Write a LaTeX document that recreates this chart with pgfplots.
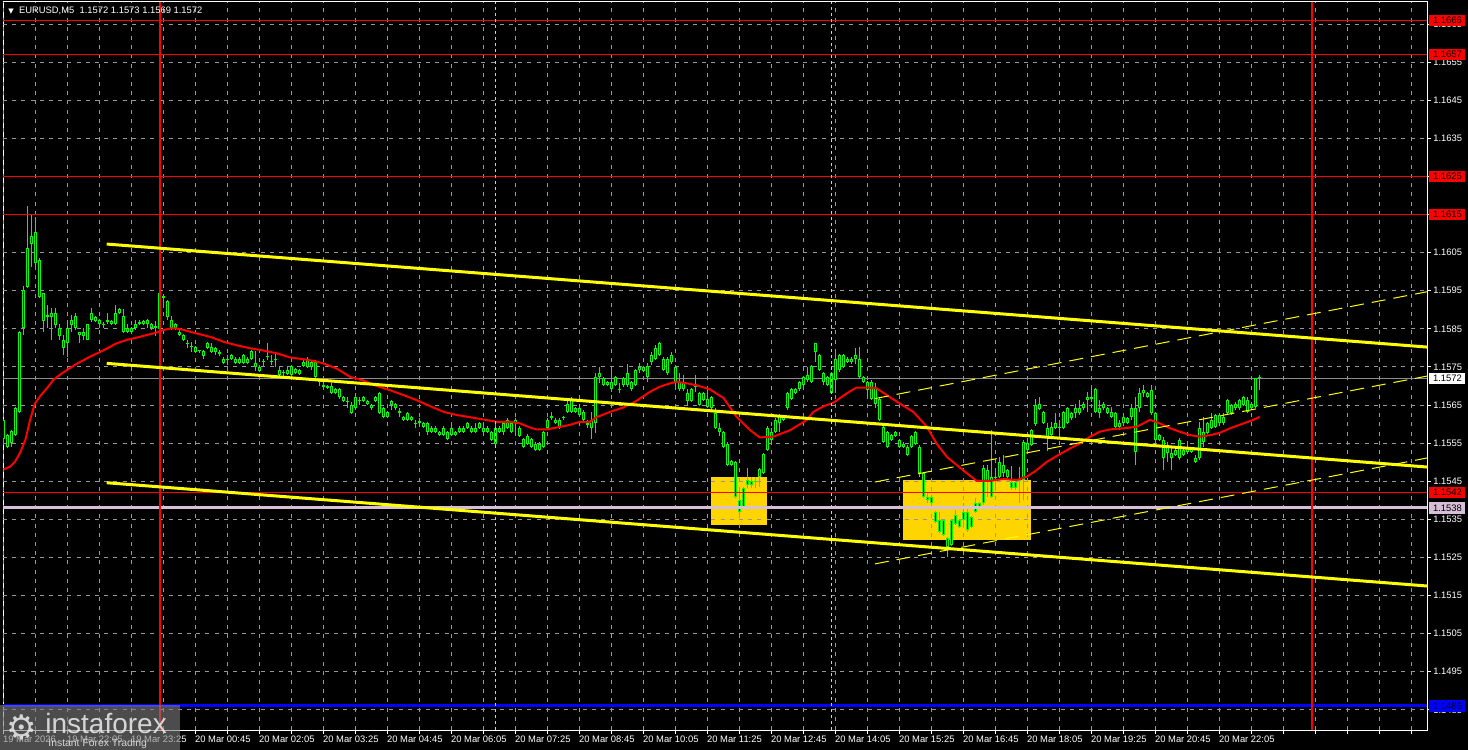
\documentclass[border=0pt]{standalone}
\usepackage{pgfplots}
\pgfplotsset{compat=1.18}
\usepackage{pgfplotstable}
\usepackage{fontspec}
\setmainfont{Liberation Sans}
\newfontfamily\dejavu{DejaVu Sans}
\definecolor{cgreen}{RGB}{0,255,0}
\definecolor{gold}{RGB}{255,213,0}
\definecolor{cyellow}{RGB}{255,255,0}
\definecolor{gridc}{RGB}{150,150,160}
\definecolor{thistlec}{RGB}{216,191,216}
\definecolor{limec}{RGB}{173,255,47}
\definecolor{cblue}{RGB}{0,0,255}
\definecolor{curgray}{RGB}{140,140,140}
\newcommand{\tickfont}{\fontsize{4.7bp}{5.5bp}\selectfont}

\pgfplotstableread{
t o h l c
-195 1.15612 1.15614 1.15555 1.15560
-190 1.15571 1.15574 1.15538 1.15541
-185 1.15551 1.15584 1.15541 1.15582
-180 1.15571 1.15644 1.15568 1.15641
-175 1.15631 1.15844 1.15629 1.15841
-170 1.15851 1.15962 1.15834 1.15952
-165 1.15961 1.16172 1.15956 1.16061
-160 1.16072 1.16149 1.16013 1.16094
-155 1.16103 1.16144 1.16013 1.16022
-150 1.16032 1.16035 1.15930 1.15933
-145 1.15943 1.15945 1.15842 1.15871
-140 1.15882 1.15912 1.15851 1.15886
-135 1.15882 1.15904 1.15822 1.15891
-130 1.15891 1.15904 1.15851 1.15860
-125 1.15851 1.15863 1.15821 1.15831
-120 1.15822 1.15834 1.15781 1.15801
-115 1.15812 1.15873 1.15777 1.15851
-110 1.15860 1.15886 1.15842 1.15873
-105 1.15884 1.15891 1.15847 1.15851
-100 1.15841 1.15842 1.15812 1.15834
-95 1.15831 1.15851 1.15821 1.15841
-90 1.15822 1.15864 1.15820 1.15862
-85 1.15873 1.15904 1.15869 1.15891
-80 1.15882 1.15885 1.15868 1.15871
-75 1.15873 1.15877 1.15851 1.15863
-70 1.15863 1.15869 1.15851 1.15860
-65 1.15869 1.15891 1.15863 1.15873
-60 1.15871 1.15874 1.15860 1.15863
-55 1.15863 1.15912 1.15860 1.15891
-50 1.15891 1.15904 1.15888 1.15901
-45 1.15884 1.15901 1.15838 1.15841
-40 1.15841 1.15863 1.15838 1.15851
-35 1.15851 1.15854 1.15838 1.15841
-30 1.15851 1.15873 1.15847 1.15862
-25 1.15864 1.15873 1.15860 1.15868
-20 1.15871 1.15874 1.15860 1.15863
-15 1.15862 1.15875 1.15851 1.15873
-10 1.15862 1.15865 1.15848 1.15851
-5 1.15853 1.15870 1.15830 1.15857
0 1.15850 1.15945 1.15840 1.15943
5 1.15935 1.15939 1.15905 1.15931
10 1.15922 1.15926 1.15873 1.15882
15 1.15873 1.15884 1.15848 1.15851
20 1.15851 1.15865 1.15848 1.15862
25 1.15843 1.15847 1.15831 1.15834
30 1.15834 1.15837 1.15818 1.15821
35 1.15812 1.15822 1.15799 1.15810
40 1.15804 1.15816 1.15790 1.15802
45 1.15803 1.15806 1.15787 1.15790
50 1.15791 1.15795 1.15787 1.15793
55 1.15792 1.15795 1.15772 1.15779
60 1.15800 1.15815 1.15797 1.15812
65 1.15803 1.15812 1.15787 1.15790
70 1.15790 1.15803 1.15781 1.15800
75 1.15790 1.15795 1.15780 1.15785
80 1.15772 1.15775 1.15758 1.15761
85 1.15767 1.15781 1.15755 1.15770
90 1.15771 1.15784 1.15768 1.15781
95 1.15772 1.15775 1.15758 1.15761
100 1.15761 1.15775 1.15758 1.15772
105 1.15781 1.15784 1.15758 1.15761
110 1.15761 1.15775 1.15758 1.15772
115 1.15772 1.15795 1.15769 1.15792
120 1.15761 1.15792 1.15740 1.15751
125 1.15751 1.15755 1.15738 1.15740
130 1.15762 1.15772 1.15752 1.15765
135 1.15775 1.15814 1.15768 1.15780
140 1.15766 1.15781 1.15755 1.15762
145 1.15768 1.15790 1.15751 1.15772
150 1.15742 1.15752 1.15726 1.15729
155 1.15733 1.15742 1.15724 1.15737
160 1.15731 1.15752 1.15729 1.15742
165 1.15752 1.15755 1.15726 1.15729
170 1.15735 1.15748 1.15732 1.15745
175 1.15742 1.15745 1.15728 1.15731
180 1.15752 1.15772 1.15749 1.15764
185 1.15772 1.15775 1.15748 1.15751
190 1.15751 1.15767 1.15742 1.15764
195 1.15764 1.15767 1.15720 1.15724
200 1.15712 1.15720 1.15700 1.15710
205 1.15702 1.15711 1.15689 1.15698
210 1.15700 1.15703 1.15692 1.15696
215 1.15700 1.15707 1.15678 1.15681
220 1.15681 1.15694 1.15678 1.15691
225 1.15691 1.15694 1.15667 1.15670
230 1.15670 1.15673 1.15658 1.15661
235 1.15660 1.15672 1.15641 1.15657
240 1.15650 1.15659 1.15627 1.15630
245 1.15641 1.15681 1.15637 1.15672
250 1.15664 1.15672 1.15650 1.15661
255 1.15661 1.15673 1.15658 1.15670
260 1.15661 1.15664 1.15649 1.15652
265 1.15650 1.15653 1.15638 1.15641
270 1.15661 1.15675 1.15658 1.15672
275 1.15681 1.15684 1.15627 1.15630
280 1.15641 1.15646 1.15616 1.15619
285 1.15619 1.15635 1.15616 1.15632
290 1.15650 1.15663 1.15637 1.15661
295 1.15652 1.15655 1.15638 1.15641
300 1.15634 1.15641 1.15619 1.15630
305 1.15619 1.15622 1.15608 1.15611
310 1.15611 1.15633 1.15608 1.15630
315 1.15619 1.15622 1.15609 1.15612
320 1.15603 1.15611 1.15589 1.15600
325 1.15603 1.15615 1.15593 1.15607
330 1.15602 1.15605 1.15590 1.15593
335 1.15602 1.15605 1.15571 1.15580
340 1.15580 1.15594 1.15577 1.15591
345 1.15591 1.15594 1.15577 1.15580
350 1.15580 1.15583 1.15568 1.15571
355 1.15571 1.15594 1.15568 1.15591
360 1.15580 1.15583 1.15557 1.15560
365 1.15571 1.15594 1.15568 1.15591
370 1.15580 1.15583 1.15568 1.15571
375 1.15580 1.15594 1.15577 1.15591
380 1.15591 1.15594 1.15577 1.15580
385 1.15591 1.15605 1.15588 1.15602
390 1.15591 1.15594 1.15577 1.15580
395 1.15580 1.15602 1.15577 1.15591
400 1.15591 1.15605 1.15588 1.15602
405 1.15591 1.15594 1.15577 1.15580
410 1.15580 1.15594 1.15577 1.15591
415 1.15580 1.15583 1.15555 1.15558
420 1.15549 1.15602 1.15546 1.15591
425 1.15591 1.15594 1.15577 1.15580
430 1.15580 1.15606 1.15571 1.15602
435 1.15612 1.15615 1.15588 1.15591
440 1.15580 1.15605 1.15577 1.15602
445 1.15602 1.15615 1.15580 1.15612
450 1.15591 1.15594 1.15567 1.15570
455 1.15561 1.15564 1.15538 1.15541
460 1.15549 1.15573 1.15546 1.15570
465 1.15561 1.15564 1.15538 1.15541
470 1.15549 1.15552 1.15529 1.15532
475 1.15532 1.15552 1.15529 1.15549
480 1.15541 1.15583 1.15538 1.15580
485 1.15591 1.15615 1.15584 1.15612
490 1.15617 1.15633 1.15611 1.15620
495 1.15612 1.15615 1.15599 1.15602
500 1.15612 1.15615 1.15588 1.15591
505 1.15615 1.15621 1.15612 1.15619
510 1.15633 1.15667 1.15630 1.15654
515 1.15667 1.15670 1.15630 1.15633
520 1.15633 1.15644 1.15630 1.15641
525 1.15641 1.15644 1.15621 1.15624
530 1.15633 1.15636 1.15608 1.15611
535 1.15602 1.15611 1.15589 1.15598
540 1.15591 1.15633 1.15561 1.15611
545 1.15602 1.15733 1.15576 1.15724
550 1.15724 1.15751 1.15707 1.15733
555 1.15720 1.15723 1.15699 1.15702
560 1.15702 1.15714 1.15699 1.15711
565 1.15711 1.15744 1.15685 1.15691
570 1.15702 1.15727 1.15699 1.15724
575 1.15693 1.15707 1.15681 1.15690
580 1.15702 1.15724 1.15698 1.15720
585 1.15733 1.15759 1.15698 1.15702
590 1.15711 1.15714 1.15688 1.15691
595 1.15702 1.15745 1.15699 1.15742
600 1.15742 1.15761 1.15733 1.15751
605 1.15750 1.15753 1.15737 1.15740
610 1.15752 1.15761 1.15711 1.15724
615 1.15762 1.15790 1.15755 1.15781
620 1.15772 1.15807 1.15768 1.15799
625 1.15812 1.15815 1.15778 1.15781
630 1.15772 1.15775 1.15739 1.15742
635 1.15733 1.15775 1.15730 1.15772
640 1.15762 1.15790 1.15759 1.15781
645 1.15751 1.15754 1.15698 1.15711
650 1.15711 1.15733 1.15688 1.15691
655 1.15691 1.15729 1.15688 1.15711
660 1.15681 1.15691 1.15650 1.15661
665 1.15661 1.15694 1.15658 1.15691
670 1.15697 1.15730 1.15685 1.15700
675 1.15681 1.15684 1.15647 1.15650
680 1.15663 1.15684 1.15660 1.15681
685 1.15665 1.15691 1.15641 1.15645
690 1.15641 1.15675 1.15638 1.15672
695 1.15630 1.15641 1.15586 1.15589
700 1.15591 1.15602 1.15569 1.15580
705 1.15580 1.15583 1.15538 1.15541
710 1.15549 1.15552 1.15490 1.15493
715 1.15493 1.15506 1.15490 1.15503
720 1.15501 1.15504 1.15406 1.15409
725 1.15401 1.15431 1.15361 1.15370
730 1.15383 1.15434 1.15379 1.15431
735 1.15440 1.15484 1.15431 1.15453
740 1.15451 1.15462 1.15431 1.15440
745 1.15447 1.15462 1.15431 1.15450
750 1.15462 1.15484 1.15436 1.15481
755 1.15471 1.15524 1.15468 1.15521
760 1.15532 1.15594 1.15529 1.15591
765 1.15580 1.15591 1.15555 1.15558
770 1.15580 1.15615 1.15577 1.15612
775 1.15602 1.15627 1.15580 1.15624
780 1.15621 1.15624 1.15608 1.15611
785 1.15641 1.15684 1.15638 1.15681
790 1.15691 1.15694 1.15664 1.15667
795 1.15681 1.15694 1.15678 1.15691
800 1.15691 1.15714 1.15688 1.15711
805 1.15702 1.15727 1.15699 1.15724
810 1.15716 1.15751 1.15711 1.15729
815 1.15711 1.15755 1.15708 1.15752
820 1.15790 1.15814 1.15762 1.15812
825 1.15781 1.15784 1.15739 1.15742
830 1.15733 1.15736 1.15702 1.15711
835 1.15702 1.15727 1.15699 1.15724
840 1.15733 1.15736 1.15678 1.15681
845 1.15716 1.15794 1.15681 1.15772
850 1.15781 1.15784 1.15738 1.15742
855 1.15751 1.15784 1.15748 1.15781
860 1.15772 1.15775 1.15761 1.15764
865 1.15762 1.15775 1.15759 1.15772
870 1.15772 1.15799 1.15759 1.15781
875 1.15772 1.15803 1.15720 1.15724
880 1.15724 1.15727 1.15708 1.15711
885 1.15711 1.15714 1.15676 1.15689
890 1.15711 1.15715 1.15664 1.15667
895 1.15654 1.15707 1.15641 1.15694
900 1.15667 1.15670 1.15608 1.15611
905 1.15593 1.15596 1.15551 1.15554
910 1.15541 1.15583 1.15538 1.15580
915 1.15571 1.15574 1.15555 1.15558
920 1.15569 1.15583 1.15566 1.15580
925 1.15558 1.15561 1.15538 1.15541
930 1.15541 1.15552 1.15538 1.15549
935 1.15541 1.15544 1.15516 1.15519
940 1.15541 1.15572 1.15538 1.15569
945 1.15580 1.15583 1.15546 1.15549
950 1.15541 1.15544 1.15462 1.15471
955 1.15471 1.15474 1.15406 1.15409
960 1.15409 1.15423 1.15392 1.15401
965 1.15409 1.15414 1.15383 1.15392
970 1.15370 1.15373 1.15341 1.15344
975 1.15348 1.15370 1.15313 1.15318
980 1.15309 1.15351 1.15306 1.15348
985 1.15300 1.15303 1.15252 1.15278
990 1.15283 1.15351 1.15280 1.15348
995 1.15339 1.15375 1.15336 1.15361
1000 1.15348 1.15351 1.15328 1.15331
1005 1.15348 1.15392 1.15339 1.15370
1010 1.15370 1.15379 1.15318 1.15322
1015 1.15331 1.15360 1.15328 1.15357
1020 1.15370 1.15405 1.15367 1.15392
1025 1.15392 1.15395 1.15380 1.15383
1030 1.15392 1.15493 1.15388 1.15484
1035 1.15479 1.15493 1.15409 1.15449
1040 1.15409 1.15584 1.15406 1.15462
1045 1.15462 1.15475 1.15436 1.15459
1050 1.15462 1.15514 1.15458 1.15501
1055 1.15493 1.15519 1.15462 1.15471
1060 1.15479 1.15482 1.15459 1.15462
1065 1.15449 1.15490 1.15428 1.15431
1070 1.15431 1.15452 1.15428 1.15449
1075 1.15450 1.15488 1.15392 1.15453
1080 1.15453 1.15557 1.15400 1.15554
1085 1.15551 1.15563 1.15528 1.15532
1090 1.15545 1.15587 1.15542 1.15584
1095 1.15600 1.15667 1.15595 1.15650
1100 1.15652 1.15672 1.15637 1.15640
1105 1.15632 1.15635 1.15599 1.15602
1110 1.15590 1.15602 1.15530 1.15565
1115 1.15571 1.15605 1.15568 1.15593
1120 1.15589 1.15628 1.15586 1.15602
1125 1.15592 1.15611 1.15567 1.15589
1130 1.15589 1.15635 1.15586 1.15632
1135 1.15641 1.15644 1.15599 1.15602
1140 1.15615 1.15631 1.15612 1.15628
1145 1.15628 1.15654 1.15615 1.15641
1150 1.15641 1.15663 1.15625 1.15628
1155 1.15641 1.15657 1.15638 1.15654
1160 1.15663 1.15685 1.15632 1.15672
1165 1.15670 1.15702 1.15659 1.15667
1170 1.15692 1.15694 1.15628 1.15632
1175 1.15630 1.15663 1.15615 1.15641
1180 1.15641 1.15657 1.15638 1.15654
1185 1.15641 1.15644 1.15627 1.15630
1190 1.15632 1.15646 1.15615 1.15619
1195 1.15628 1.15631 1.15589 1.15593
1200 1.15593 1.15611 1.15584 1.15602
1205 1.15602 1.15628 1.15597 1.15619
1210 1.15615 1.15618 1.15599 1.15602
1215 1.15619 1.15654 1.15611 1.15641
1220 1.15528 1.15672 1.15493 1.15641
1225 1.15641 1.15694 1.15632 1.15681
1230 1.15681 1.15702 1.15672 1.15689
1235 1.15681 1.15684 1.15669 1.15672
1240 1.15689 1.15702 1.15625 1.15628
1245 1.15628 1.15631 1.15555 1.15558
1250 1.15558 1.15574 1.15555 1.15571
1255 1.15558 1.15567 1.15479 1.15510
1260 1.15523 1.15554 1.15501 1.15541
1265 1.15523 1.15536 1.15479 1.15510
1270 1.15519 1.15535 1.15516 1.15532
1275 1.15510 1.15563 1.15506 1.15558
1280 1.15532 1.15535 1.15516 1.15519
1285 1.15528 1.15544 1.15525 1.15541
1290 1.15536 1.15539 1.15525 1.15528
1295 1.15510 1.15519 1.15498 1.15501
1300 1.15510 1.15606 1.15506 1.15589
1305 1.15554 1.15619 1.15540 1.15580
1310 1.15576 1.15605 1.15573 1.15602
1315 1.15611 1.15628 1.15586 1.15589
1320 1.15593 1.15627 1.15590 1.15624
1325 1.15624 1.15627 1.15599 1.15602
1330 1.15602 1.15628 1.15597 1.15619
1335 1.15628 1.15666 1.15625 1.15663
1340 1.15650 1.15653 1.15625 1.15628
1345 1.15641 1.15657 1.15638 1.15654
1350 1.15641 1.15666 1.15638 1.15663
1355 1.15672 1.15675 1.15647 1.15650
1360 1.15663 1.15672 1.15628 1.15632
1365 1.15641 1.15657 1.15638 1.15654
1370 1.15646 1.15722 1.15643 1.15720
1375 1.15720 1.15730 1.15690 1.15720
}\candles

\pgfplotstableread{
t m
-195 1.15481
-187 1.15488
-181 1.15501
-175 1.15523
-168 1.15558
-162 1.15611
-156 1.15654
-150 1.15672
-141 1.15694
-133 1.15716
-125 1.15729
-116 1.15742
-104 1.15758
-87 1.15777
-70 1.15794
-54 1.15812
-41 1.15821
-25 1.15829
-8 1.15838
5 1.15847
13 1.15851
21 1.15851
30 1.15847
46 1.15838
63 1.15829
80 1.15816
96 1.15807
113 1.15799
130 1.15793
146 1.15786
163 1.15775
180 1.15770
192 1.15766
205 1.15759
221 1.15746
238 1.15724
255 1.15714
271 1.15700
288 1.15689
305 1.15676
321 1.15663
338 1.15647
355 1.15632
371 1.15624
388 1.15618
405 1.15612
421 1.15606
438 1.15606
450 1.15602
463 1.15591
471 1.15586
484 1.15586
496 1.15591
513 1.15598
525 1.15606
538 1.15606
546 1.15618
563 1.15632
580 1.15644
596 1.15661
613 1.15685
625 1.15698
638 1.15707
646 1.15711
659 1.15707
671 1.15702
688 1.15691
705 1.15668
721 1.15619
738 1.15584
750 1.15565
767 1.15567
788 1.15584
809 1.15611
817 1.15632
830 1.15647
842 1.15656
859 1.15681
871 1.15696
884 1.15696
896 1.15694
909 1.15676
925 1.15654
942 1.15632
959 1.15593
971 1.15549
984 1.15514
996 1.15493
1009 1.15471
1021 1.15451
1038 1.15451
1055 1.15456
1071 1.15453
1084 1.15462
1096 1.15479
1109 1.15501
1125 1.15521
1138 1.15536
1150 1.15549
1163 1.15567
1175 1.15580
1188 1.15586
1205 1.15589
1221 1.15593
1238 1.15611
1250 1.15602
1263 1.15589
1275 1.15580
1288 1.15571
1300 1.15567
1313 1.15571
1325 1.15577
1338 1.15589
1355 1.15602
1367 1.15611
1375 1.15619
}\ma

\begin{document}
\begin{tikzpicture}
\fill[black] (0,0) rectangle (734bp,375bp);
\useasboundingbox (0,0) rectangle (734bp,375bp);
\begin{axis}[
  at={(1.5bp,10bp)}, anchor=south west,
  scale only axis, width=712bp, height=364bp,
  xmin=-195.9, xmax=1584.1, ymin=1.14797, ymax=1.16708,
  clip mode=individual,
  axis line style={white, line width=0.5bp},
  tick style={white, line width=0.5bp},
  tick align=outside,
  major tick length=2bp, minor tick length=2bp,
  xtick pos=bottom, ytick pos=right, yticklabel pos=right,
  scaled y ticks=false, scaled x ticks=false,
  xtick={-195,-115,...,1565},
  minor xtick={-155,-75,...,1525},
  xticklabels={19 Mar 2026,19 Mar 22:05,19 Mar 23:25,20 Mar 00:45,20 Mar 02:05,20 Mar 03:25,20 Mar 04:45,20 Mar 06:05,20 Mar 07:25,20 Mar 08:45,20 Mar 10:05,20 Mar 11:25,20 Mar 12:45,20 Mar 14:05,20 Mar 15:25,20 Mar 16:45,20 Mar 18:05,20 Mar 19:25,20 Mar 20:45,20 Mar 22:05,{},{},{}},
  ytick={1.1485,1.1495,1.1505,1.1515,1.1525,1.1535,1.1545,1.1555,1.1565,1.1575,1.1585,1.1595,1.1605,1.1615,1.1625,1.1635,1.1645,1.1655,1.1665},
  yticklabels={1.1485,1.1495,1.1505,1.1515,1.1525,1.1535,1.1545,1.1555,1.1565,1.1575,1.1585,1.1595,1.1605,1.1615,1.1625,1.1635,1.1645,1.1655,1.1665},
  tick label style={text=white, font=\tickfont},
  xticklabel style={anchor=north west, inner sep=0pt, xshift=-0.5bp, yshift=-1bp},
  yticklabel style={anchor=west, inner sep=0pt, xshift=1bp},
]
% yellow boxes
\addplot[fill=gold, draw=none] coordinates {(689,1.15461) (759,1.15461) (759,1.15336) (689,1.15336)} -- cycle;
\addplot[fill=gold, draw=none] coordinates {(929,1.15453) (1089,1.15453) (1089,1.15297) (929,1.15297)} -- cycle;
% grid
\pgfplotsinvokeforeach{-195,-155,...,1565}{
  \draw[gridc, line width=0.5bp, dash pattern=on 2bp off 2.6bp] (axis cs:#1,1.14797) -- (axis cs:#1,1.16708);
}
\pgfplotsinvokeforeach{1.1485,1.1495,1.1505,1.1515,1.1525,1.1535,1.1545,1.1555,1.1565,1.1575,1.1585,1.1595,1.1605,1.1615,1.1625,1.1635,1.1645,1.1655,1.1665}{
  \draw[gridc, line width=0.5bp, dash pattern=on 2bp off 2.6bp] (axis cs:-195.9,#1) -- (axis cs:1584.1,#1);
}
% current price line
\addplot[curgray, line width=0.5bp] coordinates {(-195.9,1.1572) (1584.1,1.1572)};
% candles: wicks
\addplot[draw=none, error bars/.cd, y dir=plus, y explicit, error mark=none,
  error bar style={draw=cgreen, line width=0.5bp}]
  table[x=t, y=l, y error expr=\thisrow{h}-\thisrow{l}] {\candles};
% bodies outer
\addplot[draw=none, error bars/.cd, y dir=plus, y explicit, error mark=none,
  error bar style={draw=cgreen, line width=1.6bp}]
  table[x=t, y expr={min(\thisrow{o},\thisrow{c})}, y error expr={max(abs(\thisrow{c}-\thisrow{o}),0.00003)}] {\candles};
% bodies inner
\addplot[draw=none, error bars/.cd, y dir=plus, y explicit, error mark=none,
  error bar style={draw=black, line width=0.55bp}]
  table[x=t, y expr={min(\thisrow{o},\thisrow{c})+0.000026}, y error expr={max(abs(\thisrow{c}-\thisrow{o})-0.000052,0)}] {\candles};
% moving average
\addplot[red, line width=1bp] table[x=t, y=m] {\ma};
% horizontal levels
\addplot[red, line width=0.7bp] coordinates {(-195.9,1.1666) (1584.1,1.1666)};
\addplot[red, line width=0.7bp] coordinates {(-195.9,1.1657) (1584.1,1.1657)};
\addplot[red, line width=0.5bp] coordinates {(-195.9,1.1625) (1584.1,1.1625)};
\addplot[red, line width=0.7bp] coordinates {(-195.9,1.1615) (1584.1,1.1615)};
\addplot[red, line width=0.7bp] coordinates {(-195.9,1.1542) (1584.1,1.1542)};
\addplot[thistlec, line width=1.5bp] coordinates {(-195.9,1.1538) (1584.1,1.1538)};
\addplot[cblue, line width=1.5bp] coordinates {(-195.9,1.1486) (1584.1,1.1486)};
% vertical lines
\addplot[red, line width=1.1bp] coordinates {(0,1.14797) (0,1.16708)};
\addplot[red, line width=1.1bp] coordinates {(1440,1.14797) (1440,1.16708)};
\addplot[limec, line width=0.5bp, dash pattern=on 1.5bp off 1.5bp] coordinates {(420,1.14797) (420,1.16708)};
\addplot[limec, line width=0.5bp, dash pattern=on 1.5bp off 1.5bp] coordinates {(840,1.14797) (840,1.16708)};
% regression channel (thick)
\addplot[cyellow, line width=1.5bp] coordinates {(-66.25,1.160726) (1584.1,1.158022)};
\addplot[cyellow, line width=1.5bp] coordinates {(-66.25,1.157594) (1584.1,1.154873)};
\addplot[cyellow, line width=1.5bp] coordinates {(-66.25,1.154461) (1584.1,1.151750)};
% thin dashed channel
\addplot[cyellow, line width=0.5bp, dash pattern=on 7bp off 4bp] coordinates {(894,1.15667) (1584.1,1.159474)};
\addplot[cyellow, line width=0.5bp, dash pattern=on 7bp off 4bp] coordinates {(894,1.15448) (1584.1,1.15726)};
\addplot[cyellow, line width=0.5bp, dash pattern=on 7bp off 4bp] coordinates {(894,1.15233) (1584.1,1.15511)};
% tag anchors
\coordinate (T1666) at (axis cs:1584.1,1.1666);
\coordinate (T1657) at (axis cs:1584.1,1.1657);
\coordinate (T1625) at (axis cs:1584.1,1.1625);
\coordinate (T1615) at (axis cs:1584.1,1.1615);
\coordinate (T1572) at (axis cs:1584.1,1.1572);
\coordinate (T1542) at (axis cs:1584.1,1.1542);
\coordinate (T1538) at (axis cs:1584.1,1.1538);
\coordinate (T1486) at (axis cs:1584.1,1.1486);
\coordinate (TL) at (rel axis cs:0,1);
\end{axis}
\tikzset{tag/.style={anchor=west, xshift=1bp, minimum width=18bp, minimum height=5.6bp, inner sep=0pt, font=\tickfont}}
\node[tag, fill=red, text=black] at (T1666) {1.1666};
\node[tag, fill=red, text=black] at (T1657) {1.1657};
\node[tag, fill=red, text=black] at (T1625) {1.1625};
\node[tag, fill=red, text=black] at (T1615) {1.1615};
\node[tag, fill=white, text=black] at (T1572) {1.1572};
\node[tag, fill=red, text=black] at (T1542) {1.1542};
\node[tag, fill=thistlec, text=black] at (T1538) {1.1538};
\node[tag, fill=cblue, text=black] at (T1486) {1.1486};
% title
\node[anchor=north west, inner sep=0pt, text=white, font=\tickfont] at ([xshift=2.5bp, yshift=-2.5bp]TL) {{\dejavu\fontsize{3.5bp}{4bp}\selectfont ▼}\ \ EURUSD,M5\ \ 1.1572 1.1573 1.1569 1.1572};
% watermark
\fill[gray, opacity=0.6] (0,0) rectangle (90bp,22.5bp);
\node[anchor=center, text=white!85!gray, opacity=0.85, inner sep=0pt, font=\dejavu\fontsize{17bp}{17bp}\selectfont] at (11bp,11.5bp) {⚙};
\node[anchor=base west, text=white!85!gray, opacity=0.85, inner sep=0pt, font=\fontsize{14bp}{14bp}\selectfont] at (22.5bp,8.5bp) {instaforex};
\node[anchor=base west, text=white!85!gray, opacity=0.85, inner sep=0pt, font=\fontsize{5.2bp}{6bp}\selectfont] at (24bp,2bp) {Instant Forex Trading};
\end{tikzpicture}
\end{document}
